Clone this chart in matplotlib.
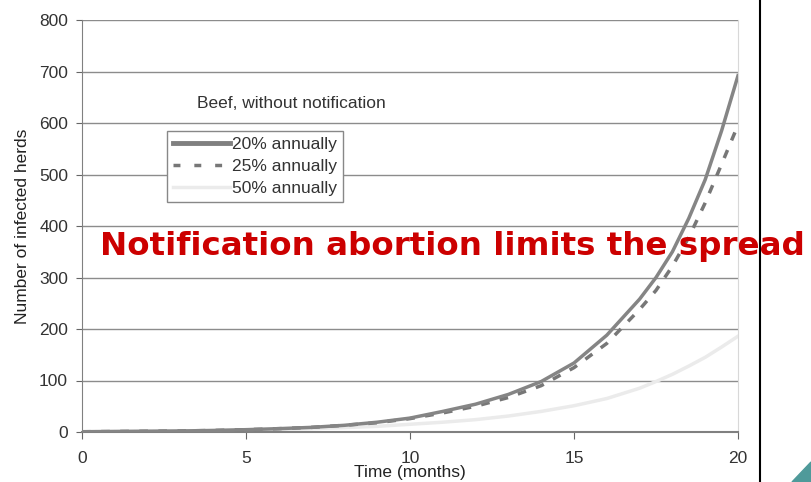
import numpy as np
import matplotlib.pyplot as plt
from matplotlib.patches import Polygon
from matplotlib.lines import Line2D

plt.rcParams['font.family'] = ['Liberation Sans', 'DejaVu Sans']

# values
months = [0, 1, 2, 3, 4, 5, 6, 7, 8, 9, 10, 11, 12, 13, 14, 15, 16, 17, 17.5, 18, 18.5, 19, 19.5, 20]
herds_20 = [0.5, 1, 1.5, 2, 3, 4.5, 6.5, 9, 13, 19, 27, 40, 54, 73, 98, 134, 188, 258, 300, 350, 415, 490, 585, 692]
herds_25 = [0.5, 1, 1.5, 2, 3, 4.5, 6.5, 9, 13, 18, 26, 37, 50, 67, 90, 125, 172, 238, 275, 322, 378, 445, 520, 596]
herds_50 = [0.5, 1, 1.5, 2, 2.5, 3.5, 5, 6.5, 8.5, 11, 15, 19, 24, 31, 40, 51, 65, 85, 98, 112, 128, 145, 165, 186]
y_ticks = [0, 100, 200, 300, 400, 500, 600, 700, 800]
x_ticks = [0, 5, 10, 15, 20]

W, H = 811, 482
fig = plt.figure(figsize=(W / 100, H / 100), dpi=100)
ax = fig.add_axes([82 / W, 1 - 432 / H, (738 - 82) / W, (432 - 20) / H])

for y in y_ticks[1:]:
    ax.axhline(y, color='#8c8c8c', lw=1.0, zorder=1)

ax.plot(months, herds_50, color='#ebebeb', lw=2.5, zorder=2)
ax.plot(months, herds_25, color='#777777', lw=2.5, ls=(0, (2.5, 3)), zorder=3)
ax.plot(months, herds_20, color='#858585', lw=2.5, zorder=4)

ax.set_xlim(0, 20)
ax.set_ylim(0, 800)
ax.set_xticks(x_ticks)
ax.set_yticks(y_ticks)
ax.tick_params(axis='both', labelsize=12.5, colors='#666666', labelcolor='#333333')
ax.tick_params(axis='y', length=4, direction='out', pad=6)
ax.tick_params(axis='x', length=5, direction='out', pad=8.5)
for s in ['left', 'bottom']:
    ax.spines[s].set_color('#808080')
ax.spines['bottom'].set_linewidth(1.5)
ax.spines['top'].set_visible(False)
ax.spines['right'].set_color('#d8d8d8')

fig.text(410 / W, 1 - 472 / H, 'Time (months)', fontsize=12.5, color='#222222',
         ha='center', va='center')
fig.text(23 / W, 1 - 226 / H, 'Number of infected herds', fontsize=12.5,
         color='#222222', ha='center', va='center', rotation=90)

ax.text(3.5, 637, 'Beef, without notification', fontsize=12.5, color='#333333',
        va='center', ha='left')

handles = [
    Line2D([], [], color='#808080', lw=3.5),
    Line2D([], [], color='#777777', lw=2.5, ls=(0, (2, 4))),
    Line2D([], [], color='#ebebeb', lw=2.5),
]
leg = ax.legend(handles, ['20% annually', '25% annually', '50% annually'],
                loc='upper left', bbox_to_anchor=(85 / 656, (432 - 131) / 412),
                fontsize=12.5, frameon=True, fancybox=False, handlelength=3.3,
                handletextpad=0.1, borderpad=0.35, labelspacing=0.38,
                borderaxespad=0, framealpha=1)
leg.get_frame().set_edgecolor('#888888')
leg.get_frame().set_linewidth(1.0)
for t in leg.get_texts():
    t.set_color('#333333')

fig.text(452 / W, 1 - 247 / H, 'Notification abortion limits the spread',
         fontsize=23.4, color='#cc0000', fontweight='bold', ha='center', va='center',
         family='DejaVu Sans')

fig.add_artist(Line2D([760 / W, 760 / W], [0, 1], color='black', lw=1.5))
fig.add_artist(Polygon([[792 / W, 0], [1, 20 / H], [1, 0]], closed=True,
                       color='#4f9a9a', transform=fig.transFigure))

fig.savefig('out.png', dpi=100)
